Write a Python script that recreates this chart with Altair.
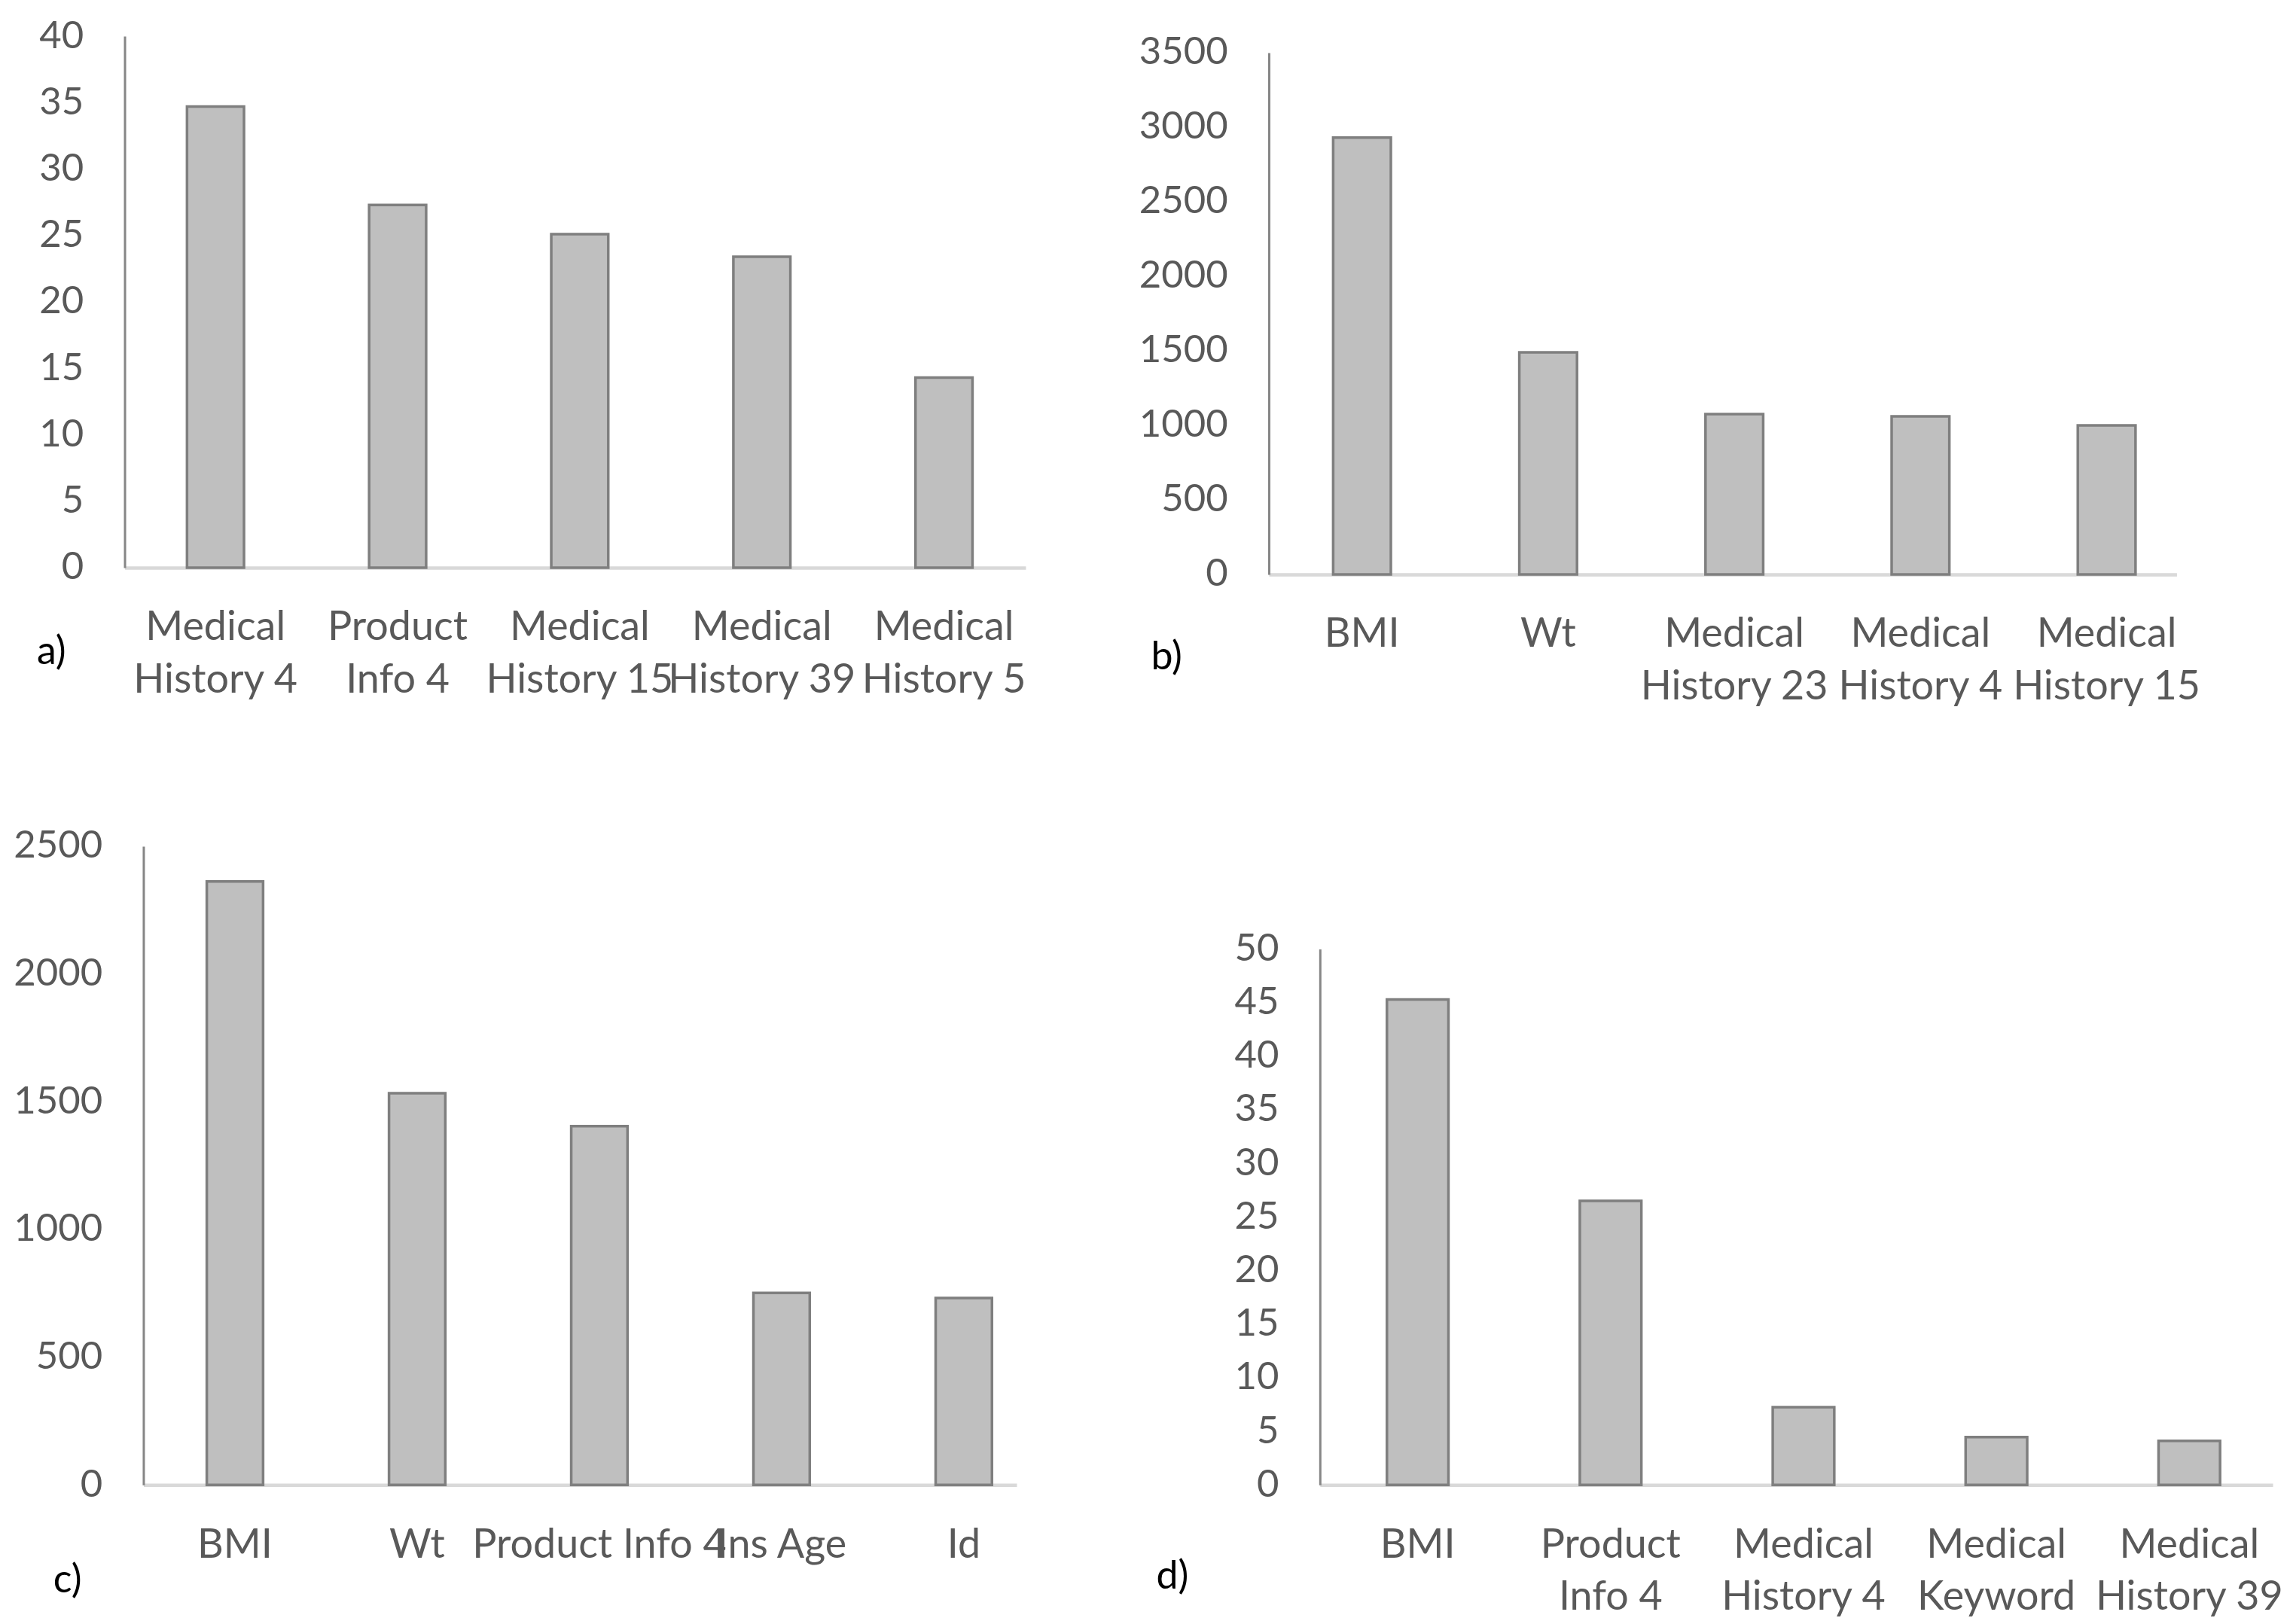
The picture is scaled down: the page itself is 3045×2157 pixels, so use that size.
import altair as alt
import pandas as pd

FONT = "Lato"
LABEL_COLOR = "#595959"

# ---- data ----
a_ticks = ["Medical|History 4", "Product|Info 4", "Medical|History 15", "Medical|History 39", "Medical|History 5"]
a_vals = [34.7, 27.3, 25.1, 23.4, 14.3]
a_yticks = [0, 5, 10, 15, 20, 25, 30, 35, 40]

b_ticks = ["BMI", "Wt", "Medical|History 23", "Medical|History 4", "Medical|History 15"]
b_vals = [2930, 1490, 1075, 1060, 1000]
b_yticks = [0, 500, 1000, 1500, 2000, 2500, 3000, 3500]

c_ticks = ["BMI", "Wt", "Product Info 4", "Ins Age", "Id"]
c_vals = [2362, 1533, 1404, 752, 732]
c_yticks = [0, 500, 1000, 1500, 2000, 2500]

d_ticks = ["BMI", "Product|Info 4", "Medical|History 4", "Medical|Keyword", "Medical|History 39"]
d_vals = [45.3, 26.5, 7.26, 4.47, 4.12]
d_yticks = [0, 5, 10, 15, 20, 25, 30, 35, 40, 45, 50]


def panel(ticks, vals, yticks, tag, width, height, yrange, xscale, xoff=0, yoff=0,
          tag_dx=-120, tag_dy=-100):
    df = pd.DataFrame({"cat": ticks, "val": vals})
    return alt.Chart(df).mark_bar(
        fill="#bfbfbf", stroke="#7f7f7f", strokeWidth=3.5
    ).encode(
        x=alt.X("cat:N", sort=ticks, title=None, scale=alt.Scale(**xscale),
                axis=alt.Axis(labelExpr="split(datum.label, '|')", labelAngle=0,
                              labelFont=FONT, labelFontSize=54, labelColor=LABEL_COLOR,
                              labelLineHeight=70, labelPadding=53, labelBaseline="top",
                              labelOverlap=False, labelBound=False, labelFlush=False,
                              labelLimit=0,
                              ticks=False, tickSize=0, domainColor="#d9d9d9",
                              domainWidth=4.5, offset=xoff)),
        y=alt.Y("val:Q", title=None,
                scale=alt.Scale(domain=[yticks[0], yticks[-1]], nice=False, zero=True, range=yrange),
                axis=alt.Axis(values=yticks, format="d", labelFont=FONT, labelFontSize=51,
                              labelColor=LABEL_COLOR, labelPadding=55, ticks=False,
                              tickSize=0, grid=False, domainColor="#868686",
                              domainWidth=3, labelFlush=False, labelBound=False,
                              offset=yoff)),
    ).properties(
        width=width, height=height,
        title=alt.TitleParams(tag, orient="bottom", anchor="start", frame="group",
                              dx=tag_dx, dy=tag_dy, font=FONT, fontSize=52,
                              fontWeight="normal", color="#000000"),
    )


pa = panel(a_ticks, a_vals, a_yticks, "a)", 1200, 717, [708, 0],
           dict(paddingInner=0.687, paddingOuter=0.317, align=0.54), xoff=-9,
           tag_dx=-117, tag_dy=-94)
pb = panel(b_ticks, b_vals, b_yticks, "b)", 1209, 717, [717, 22],
           dict(paddingInner=0.69, paddingOuter=0.283, align=0.61),
           tag_dx=-157, tag_dy=-96)
pc = panel(c_ticks, c_vals, c_yticks, "c)", 1188, 851, [851, 0],
           dict(paddingInner=0.691, paddingOuter=0.2415, align=0.72, range=[25, 1188]),
           yoff=-25, tag_dx=-95, tag_dy=-9)
pd_ = panel(d_ticks, d_vals, d_yticks, "d)", 1337, 851, [851, 137],
            dict(paddingInner=0.681, paddingOuter=0.31, align=0.56, range=[68, 1337]),
            yoff=-68, tag_dx=-150, tag_dy=-84)

chart = alt.concat(pa, pb, pc, pd_, columns=2, spacing={"row": 362, "column": 324},
                   bounds="flush", align="each").properties(
    padding={"left": 9, "top": 11, "right": 5, "bottom": 5}
).configure(font=FONT).configure_view(strokeWidth=0, stroke=None)

chart.save("out.html", embed_options={"renderer": "svg", "actions": False})
